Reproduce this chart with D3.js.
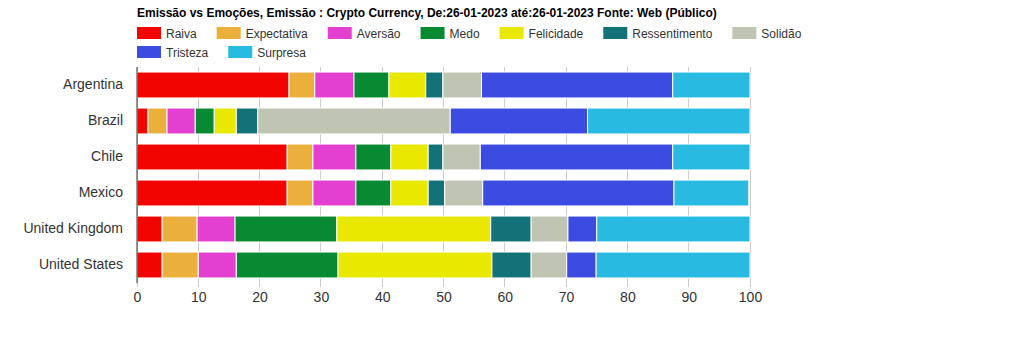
<!DOCTYPE html>
<html><head><meta charset="utf-8">
<script src="https://cdn.jsdelivr.net/npm/d3@7"></script>
<style>body{margin:0;background:#fff;} svg{display:block;font-family:"Liberation Sans",Arial,sans-serif;}</style>
</head><body>
<svg id="chart" width="1009" height="350"></svg>
<script>
const title = "Emissão vs Emoções, Emissão : Crypto Currency, De:26-01-2023 até:26-01-2023 Fonte: Web (Público)";
const categories = ["Argentina","Brazil","Chile","Mexico","United Kingdom","United States"];
const seriesNames = ["Raiva","Expectativa","Aversão","Medo","Felicidade","Ressentimento","Solidão","Tristeza","Surpresa"];
const seriesColors = ["#f20500","#ebaf3c","#e340d2","#078a31","#e8e800","#127278","#c0c4b2","#3c4be0","#28bae0"];
const raiva         = [24.8, 1.8, 24.5, 24.5,  4.1,  4.1];
const expectativa   = [ 4.2, 3.1,  4.2,  4.2,  5.7,  5.9];
const aversao       = [ 6.4, 4.6,  7.0,  7.0,  6.2,  6.2];
const medo          = [ 5.7, 3.1,  5.7,  5.7, 16.6, 16.6];
const felicidade    = [ 6.0, 3.6,  6.1,  6.1, 25.1, 25.1];
const ressentimento = [ 2.8, 3.5,  2.4,  2.7,  6.6,  6.4];
const solidao       = [ 6.3,31.4,  6.1,  6.2,  6.0,  5.8];
const tristeza      = [31.2,22.4, 31.4, 31.2,  4.7,  4.8];
const surpresa      = [12.6,26.5, 12.6, 12.2, 25.0, 25.1];
const xTicks = [0,10,20,30,40,50,60,70,80,90,100];

const seriesValues = [raiva,expectativa,aversao,medo,felicidade,ressentimento,solidao,tristeza,surpresa];
const table = categories.map((c,i)=>{const o={category:c}; seriesNames.forEach((s,j)=>o[s]=seriesValues[j][i]); return o;});

(function(){
const svg = d3.select("#chart");
const pLeft = 137, pRight = 750, pTop = 67, pBottom = 283;
const x = d3.scaleLinear().domain([0,100]).range([pLeft,pRight]);
const y = d3.scaleBand().domain(categories).range([pTop,pBottom]).paddingInner(0.28).paddingOuter(0.14);
const color = d3.scaleOrdinal().domain(seriesNames).range(seriesColors);

// title
svg.append("text").attr("x",137).attr("y",17).attr("font-size",12).attr("font-weight","bold").attr("fill","#000").text(title);

// legend
const lg = svg.append("g");
let lx = 137, ly = 27;
seriesNames.forEach((s)=>{
  const g = lg.append("g");
  const t = g.append("text").attr("font-size",12).attr("fill","#333").text(s);
  const w = t.node().getComputedTextLength();
  const itemW = 24+5+w+20;
  if (lx + 24+5+w > 880) { lx = 137; ly += 19; }
  g.append("rect").attr("x",lx).attr("y",ly).attr("width",24).attr("height",12).attr("fill",color(s));
  t.attr("x",lx+29).attr("y",ly+10.5);
  lx += itemW;
});

// gridlines
svg.append("g").selectAll("line").data(xTicks).join("line")
  .attr("x1",d=>x(d)).attr("x2",d=>x(d)).attr("y1",pTop).attr("y2",pBottom+4)
  .attr("stroke","#ccc").attr("stroke-width",1).attr("shape-rendering","crispEdges");

// bars
const stack = d3.stack().keys(seriesNames)(table);
svg.append("g").selectAll("g").data(stack).join("g").attr("fill",d=>color(d.key))
  .selectAll("rect").data(d=>d).join("rect")
  .attr("x",d=>x(d[0])).attr("width",d=>Math.max(0,x(d[1])-x(d[0])))
  .attr("y",d=>y(d.data.category)).attr("height",y.bandwidth())
  .attr("stroke","#fff").attr("stroke-width",1);

// left axis
const ya = svg.append("g").attr("transform",`translate(${pLeft},0)`).call(d3.axisLeft(y).tickSize(0).tickPadding(14));
ya.select(".domain").attr("stroke","#333").attr("d",`M0,${pTop}V${pBottom}`);
ya.selectAll("text").attr("font-size",14).attr("fill","#333").attr("font-family","Liberation Sans, Arial, sans-serif");

// bottom axis labels
const xa = svg.append("g").attr("transform",`translate(0,${pBottom})`).call(d3.axisBottom(x).tickValues(xTicks).tickSize(0).tickPadding(9));
xa.select(".domain").remove();
xa.selectAll("text").attr("font-size",14).attr("fill","#333").attr("font-family","Liberation Sans, Arial, sans-serif");
})();
</script>
</body></html>
